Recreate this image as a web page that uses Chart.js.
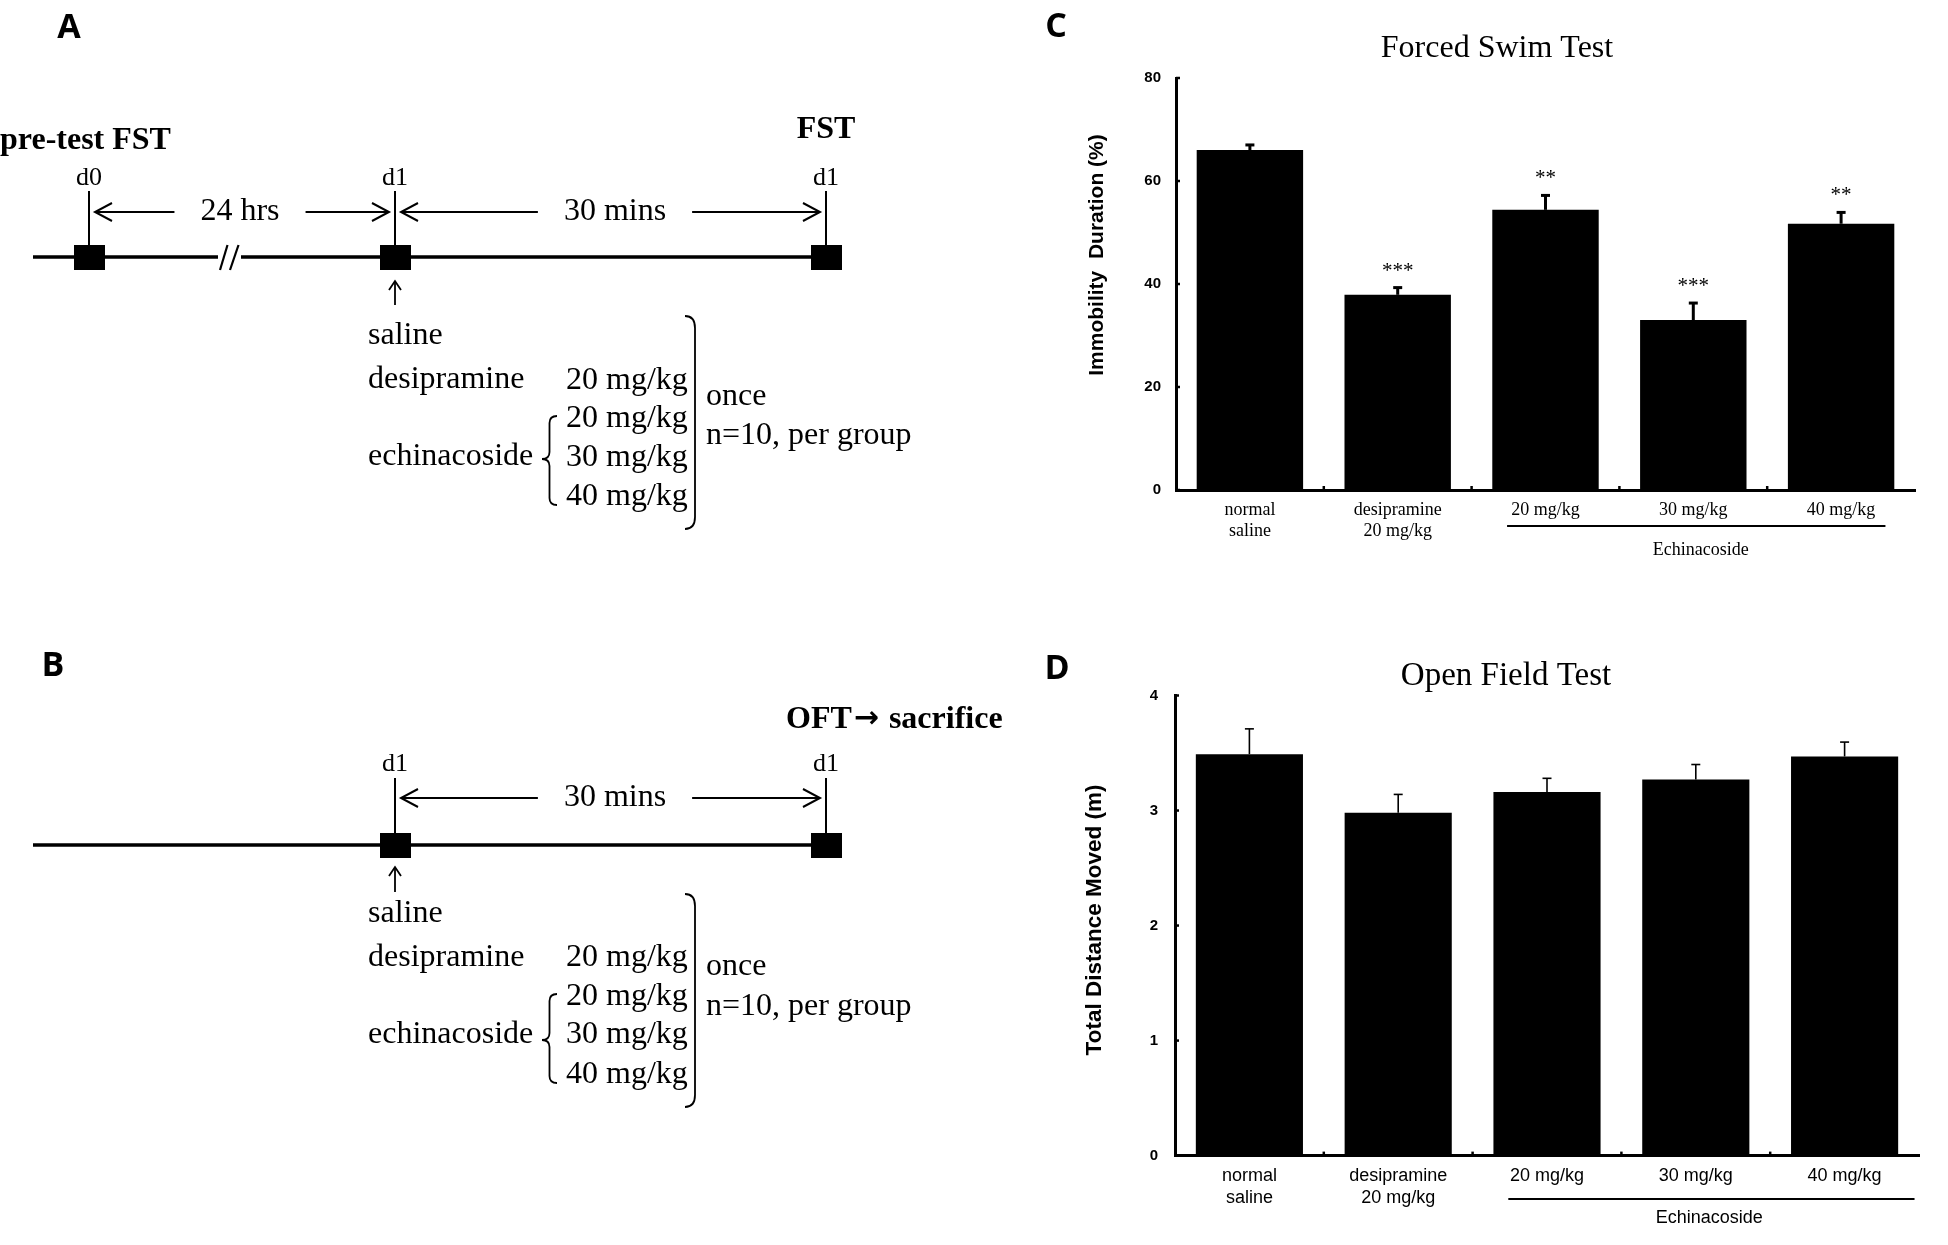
<!DOCTYPE html>
<html>
<head>
<meta charset="utf-8">
<script src="https://cdn.jsdelivr.net/npm/chart.js@4.4.1/dist/chart.umd.min.js"></script>
<style>
  html, body { margin: 0; padding: 0; background: #fff; }
  body { width: 1948px; height: 1245px; position: relative; overflow: hidden; }
  canvas { position: absolute; }
</style>
</head>
<body>
<canvas id="schedule" width="1040" height="1245" style="left:0;top:0"></canvas>
<canvas id="fst" width="908" height="620" style="left:1040px;top:0"></canvas>
<canvas id="oft" width="908" height="625" style="left:1040px;top:620px"></canvas>
<script>
// ---- panels C and D: group results ----
var groupLabels = [['normal', 'saline'], ['desipramine', '20 mg/kg'], '20 mg/kg', '30 mg/kg', '40 mg/kg'];
var immobility = [66.0, 37.9, 54.4, 33.0, 51.7];
var immobilityErr = [1.0, 1.4, 2.8, 3.3, 2.2];
var immobilityStars = ['', '***', '**', '***', '**'];
var distanceMoved = [3.49, 2.98, 3.16, 3.27, 3.47];
var distanceErr = [0.22, 0.16, 0.12, 0.13, 0.125];
var distanceStars = ['', '', '', '', ''];
var fstTicks = [0, 20, 40, 60, 80];
var oftTicks = [0, 1, 2, 3, 4];
var groupName = 'Echinacoside';

// ---- panels A and B: schedule text ----
var eventLabelsA = ['d0', 'd1', 'd1'];
var eventLabelsB = ['d1', 'd1'];
var intervalLabelsA = ['24 hrs', '30 mins'];
var intervalLabelsB = ['30 mins'];
var treatmentNames = ['saline', 'desipramine', 'echinacoside'];
var doseLabels = ['20 mg/kg', '20 mg/kg', '30 mg/kg', '40 mg/kg'];
var groupNotes = ['once', 'n=10, per group'];

// where things sit in the schedule drawing (diagram units)
var layoutA = {
    letter: ['A', 69, 28],
    lineY: 257, lineFrom: 33, lineTo: 841, breakX: 229.5,
    eventX: [89, 395, 826], labelY: 178, stemTop: 191,
    heads: [[['pre-test FST'], 0, 141, 'left'], [['FST'], 826, 130, 'center']],
    arrowY: 212, intervalX: [240, 615], intervalPairs: [[0, 1], [1, 2]],
    doseEvent: 1, upArrow: [305, 281],
    nameX: 368, nameY: [336, 380, 457],
    doseX: 566, doseY: [381, 419, 458, 497],
    brace: [542, 557, 416, 459, 505],
    bracket: [685, 695, 316, 529],
    noteX: 706, noteY: [397, 436]
};
var layoutB = {
    letter: ['B', 53, 666],
    lineY: 845, lineFrom: 33, lineTo: 841, breakX: null,
    eventX: [395, 826], labelY: 764, stemTop: 778,
    heads: [[['OFT', '\u2192', ' sacrifice'], 786, 720, 'left']],
    arrowY: 798, intervalX: [615], intervalPairs: [[0, 1]],
    doseEvent: 0, upArrow: [892, 867],
    nameX: 368, nameY: [914, 958, 1035],
    doseX: 566, doseY: [958, 997, 1035, 1075],
    brace: [542, 557, 994, 1040, 1083],
    bracket: [685, 695, 894, 1107],
    noteX: 706, noteY: [967, 1007]
};

var SERIF = '"Liberation Serif", "Times New Roman", serif';
var SANS = '"Liberation Sans", Arial, sans-serif';
var LETTER_FONT = 'bold 34px "Open Sans", ' + SANS;
var HEAD_FONT = 'bold 32px ' + SERIF;
var ARROW_FONT = 'bold 30px "DejaVu Sans", sans-serif';

function strokePath(ctx, pts, w) {
    ctx.lineWidth = w;
    ctx.beginPath();
    pts.forEach(function (p, i) {
        if (i) ctx.lineTo(p[0], p[1]); else ctx.moveTo(p[0], p[1]);
    });
    ctx.stroke();
}

function label(ctx, str, x, y, font, align) {
    ctx.font = font;
    ctx.textAlign = align || 'center';
    ctx.textBaseline = 'middle';
    ctx.fillText(str, x, y);
}

// heading made of pieces; the arrow piece uses a font with a bolder arrow
function heading(ctx, parts, x, y, align) {
    var widths = parts.map(function (p) {
        ctx.font = p === '\u2192' ? ARROW_FONT : HEAD_FONT;
        return ctx.measureText(p).width + (p === '\u2192' ? 4 : 0);
    });
    var total = widths.reduce(function (a, b) { return a + b; }, 0);
    var cx = align === 'center' ? x - total / 2 : x;
    parts.forEach(function (p, i) {
        var isArrow = p === '\u2192';
        label(ctx, p, isArrow ? cx + 2 : cx, isArrow ? y - 1 : y, isArrow ? ARROW_FONT : HEAD_FONT, 'left');
        cx += widths[i];
    });
}

function timelineData(L) {
    var pts = [{x: L.lineFrom, y: L.lineY}];
    if (L.breakX !== null) {
        pts.push({x: L.breakX - 11.5, y: L.lineY});
        pts.push({x: L.breakX, y: null});
        pts.push({x: L.breakX + 11.5, y: L.lineY});
    }
    pts.push({x: L.lineTo, y: L.lineY});
    return pts;
}

function markerData(L) {
    return L.eventX.map(function (x) { return {x: x, y: L.lineY}; });
}

function drawSchedule(chart, L, events, intervals) {
    var ctx = chart.ctx;
    var sx = function (v) { return chart.scales.x.getPixelForValue(v); };
    var sy = function (v) { return chart.scales.y.getPixelForValue(v); };
    var big = '32px ' + SERIF;
    ctx.save();
    ctx.strokeStyle = '#000';
    ctx.fillStyle = '#000';

    label(ctx, L.letter[0], sx(L.letter[1]), sy(L.letter[2]), LETTER_FONT, 'center');
    L.heads.forEach(function (h) {
        heading(ctx, h[0], sx(h[1]), sy(h[2]), h[3]);
    });

    events.forEach(function (lab, i) {
        var x = sx(L.eventX[i]);
        label(ctx, lab, x, sy(L.labelY), '26px ' + SERIF, 'center');
        strokePath(ctx, [[x, sy(L.stemTop)], [x, sy(L.lineY)]], 2);
    });

    if (L.breakX !== null) {
        var bx = sx(L.breakX), by = sy(L.lineY);
        strokePath(ctx, [[bx - 9.5, by + 13], [bx - 2, by - 12]], 2.2);
        strokePath(ctx, [[bx + 0.5, by + 13], [bx + 9, by - 12]], 2.2);
    }

    intervals.forEach(function (lab, k) {
        var pair = L.intervalPairs[k];
        var xa = sx(L.eventX[pair[0]]) + 6;
        var xb = sx(L.eventX[pair[1]]) - 6;
        var xc = sx(L.intervalX[k]);
        var y = sy(L.arrowY);
        ctx.font = big;
        var half = ctx.measureText(lab).width / 2 + 26;
        label(ctx, lab, xc, y, big, 'center');
        strokePath(ctx, [[xa, y], [xc - half, y]], 2);
        strokePath(ctx, [[xc + half, y], [xb, y]], 2);
        strokePath(ctx, [[xa + 17, y - 9], [xa, y], [xa + 17, y + 9]], 2);
        strokePath(ctx, [[xb - 17, y - 9], [xb, y], [xb - 17, y + 9]], 2);
    });

    var ux = sx(L.eventX[L.doseEvent]);
    var tail = sy(L.upArrow[0]), tip = sy(L.upArrow[1]);
    strokePath(ctx, [[ux, tail], [ux, tip]], 1.8);
    strokePath(ctx, [[ux - 6, tip + 9], [ux, tip], [ux + 6, tip + 9]], 1.8);

    treatmentNames.forEach(function (n, i) {
        label(ctx, n, sx(L.nameX), sy(L.nameY[i]), big, 'left');
    });
    doseLabels.forEach(function (d, i) {
        label(ctx, d, sx(L.doseX), sy(L.doseY[i]), big, 'left');
    });
    groupNotes.forEach(function (n, i) {
        label(ctx, n, sx(L.noteX), sy(L.noteY[i]), big, 'left');
    });

    // brace round the echinacoside doses
    var xt = sx(L.brace[0]), xe = sx(L.brace[1]);
    var yt = sy(L.brace[2]), ym = sy(L.brace[3]), yb = sy(L.brace[4]);
    var xm = (xt + xe) / 2, r = 7;
    ctx.lineWidth = 1.8;
    ctx.beginPath();
    ctx.moveTo(xe, yt);
    ctx.quadraticCurveTo(xm, yt, xm, yt + r);
    ctx.lineTo(xm, ym - r);
    ctx.quadraticCurveTo(xm, ym, xt, ym);
    ctx.quadraticCurveTo(xm, ym, xm, ym + r);
    ctx.lineTo(xm, yb - r);
    ctx.quadraticCurveTo(xm, yb, xe, yb);
    ctx.stroke();

    // bracket closing all groups
    var x0 = sx(L.bracket[0]), x1 = sx(L.bracket[1]);
    var bt = sy(L.bracket[2]), bb = sy(L.bracket[3]);
    ctx.beginPath();
    ctx.moveTo(x0, bt);
    ctx.quadraticCurveTo(x1, bt, x1, bt + 12);
    ctx.lineTo(x1, bb - 12);
    ctx.quadraticCurveTo(x1, bb, x0, bb);
    ctx.stroke();

    ctx.restore();
}

var squareMark = document.createElement('canvas');
squareMark.width = 31;
squareMark.height = 25;
(function () {
    var c = squareMark.getContext('2d');
    c.fillStyle = '#000';
    c.fillRect(0, 0, 31, 25);
})();

var schedulePlugin = {
    id: 'schedule',
    afterDraw: function (chart) {
        drawSchedule(chart, layoutA, eventLabelsA, intervalLabelsA);
        drawSchedule(chart, layoutB, eventLabelsB, intervalLabelsB);
    }
};

function lineSet(data) {
    return {
        data: data, showLine: true, spanGaps: false,
        borderColor: '#000', borderWidth: 3.5, pointRadius: 0
    };
}

new Chart(document.getElementById('schedule'), {
    type: 'scatter',
    data: {
        datasets: [
            lineSet(timelineData(layoutA)),
            lineSet(timelineData(layoutB)),
            {data: markerData(layoutA).concat(markerData(layoutB)), pointStyle: squareMark, pointRadius: 12}
        ]
    },
    options: {
        responsive: false, animation: false, events: [],
        layout: {padding: 0, autoPadding: false},
        plugins: {legend: {display: false}, tooltip: {enabled: false}},
        scales: {
            x: {type: 'linear', min: 0, max: 1040, display: false},
            y: {type: 'linear', min: 0, max: 1245, reverse: true, display: false}
        }
    },
    plugins: [schedulePlugin]
});

// ---- bar charts ----
function barExtras(c) {
    return {
        id: 'extras' + c.letter,
        afterDatasetsDraw: function (chart) {
            var ctx = chart.ctx, xs = chart.scales.x, ys = chart.scales.y, area = chart.chartArea;
            ctx.save();
            ctx.strokeStyle = '#000';
            ctx.fillStyle = '#000';
            chart.getDatasetMeta(0).data.forEach(function (bar, i) {
                var top = ys.getPixelForValue(c.values[i] + c.errors[i]);
                strokePath(ctx, [[bar.x, bar.y], [bar.x, top]], c.errWidth);
                strokePath(ctx, [[bar.x - 4.5, top], [bar.x + 4.5, top]], c.errWidth);
                if (c.stars[i]) {
                    ctx.font = '21px ' + SERIF;
                    ctx.textAlign = 'center';
                    ctx.textBaseline = 'alphabetic';
                    ctx.fillText(c.stars[i], bar.x, top - 11);
                }
            });
            ys.ticks.forEach(function (t) {
                var y = ys.getPixelForValue(t.value);
                strokePath(ctx, [[area.left, y], [area.left + 4, y]], 2.5);
            });
            for (var i = 1; i < c.values.length; i++) {
                var x = xs.getPixelForValue(i - 0.5);
                strokePath(ctx, [[x, area.bottom], [x, area.bottom - 4]], 2.5);
            }
            ctx.restore();
        },
        afterDraw: function (chart) {
            var ctx = chart.ctx, xs = chart.scales.x;
            ctx.save();
            ctx.fillStyle = '#000';
            ctx.strokeStyle = '#000';
            label(ctx, c.letter, c.letterPos[0], c.letterPos[1], LETTER_FONT, 'center');
            label(ctx, c.title, c.titlePos[0], c.titlePos[1], c.titleFont, 'center');
            ctx.save();
            ctx.translate(c.yTitlePos[0], c.yTitlePos[1]);
            ctx.rotate(-Math.PI / 2);
            label(ctx, c.yTitle, 0, 0, c.yTitleFont, 'center');
            ctx.restore();
            var x1 = xs.getPixelForValue(c.span[0]), x2 = xs.getPixelForValue(c.span[1]);
            strokePath(ctx, [[x1, c.spanY], [x2, c.spanY]], 2);
            label(ctx, groupName, xs.getPixelForValue(c.spanText), c.spanTextY, c.tickFont, 'center');
            ctx.restore();
        }
    };
}

function barChart(id, c) {
    return new Chart(document.getElementById(id), {
        type: 'bar',
        data: {
            labels: groupLabels,
            datasets: [{
                data: c.values, backgroundColor: '#000', borderWidth: 0,
                barPercentage: 0.72, categoryPercentage: 1
            }]
        },
        options: {
            responsive: false, animation: false, events: [],
            layout: {padding: c.padding},
            plugins: {legend: {display: false}, tooltip: {enabled: false}},
            scales: {
                x: {
                    grid: {display: false, drawTicks: false},
                    border: {display: true, color: '#000', width: 3},
                    ticks: {
                        color: '#000', autoSkip: false, maxRotation: 0, padding: c.xPad,
                        font: {family: c.tickFamily, size: 18, lineHeight: c.xLine}
                    },
                    afterFit: function (s) { s.height = c.xHeight; }
                },
                y: {
                    min: c.ticks[0], max: c.ticks[c.ticks.length - 1],
                    afterBuildTicks: function (s) {
                        s.ticks = c.ticks.map(function (v) { return {value: v}; });
                    },
                    grid: {display: false, drawTicks: false},
                    border: {display: true, color: '#000', width: 3},
                    ticks: {
                        color: '#000', padding: c.yPad,
                        font: {family: '"Liberation Sans Narrow", ' + SANS, size: 15, weight: 'bold'}
                    },
                    afterFit: function (s) { s.width = c.yWidth; }
                }
            }
        },
        plugins: [barExtras(c)]
    });
}

barChart('fst', {
    letter: 'C', letterPos: [16, 27],
    title: 'Forced Swim Test', titlePos: [457, 49], titleFont: '32px ' + SERIF,
    yTitle: 'Immobility  Duration (%)', yTitlePos: [57, 255], yTitleFont: 'bold 21px ' + SANS,
    values: immobility, errors: immobilityErr, stars: immobilityStars, ticks: fstTicks,
    errWidth: 3,
    padding: {left: 0, right: 33, top: 78, bottom: 0},
    yWidth: 136, yPad: 15, xHeight: 130, xPad: 9.5, xLine: 21 / 18,
    tickFamily: SERIF, tickFont: '18px ' + SERIF,
    span: [1.74, 4.3], spanY: 526, spanText: 3.05, spanTextY: 550
});

barChart('oft', {
    letter: 'D', letterPos: [17, 49],
    title: 'Open Field Test', titlePos: [466, 56], titleFont: '33px ' + SERIF,
    yTitle: 'Total Distance Moved (m)', yTitlePos: [54.5, 300], yTitleFont: 'bold 22.5px ' + SANS,
    values: distanceMoved, errors: distanceErr, stars: distanceStars, ticks: oftTicks,
    errWidth: 1.6,
    padding: {left: 0, right: 29, top: 75.5, bottom: 0},
    yWidth: 135, yPad: 17, xHeight: 89.4, xPad: 9.4, xLine: 22 / 18,
    tickFamily: SANS, tickFont: '18px ' + SANS,
    span: [1.74, 4.47], spanY: 579, spanText: 3.09, spanTextY: 598
});
</script>
</body>
</html>
